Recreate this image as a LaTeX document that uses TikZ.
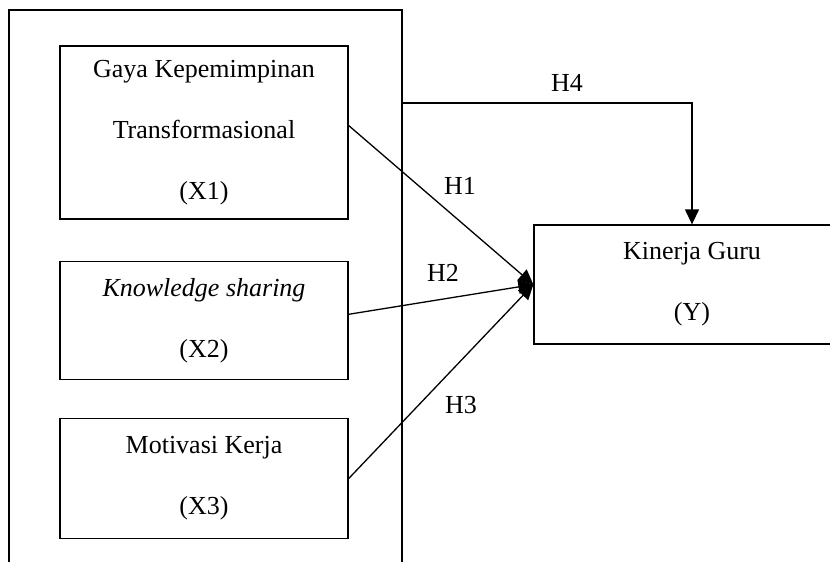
\documentclass[tikz,border=0pt]{standalone}
\usepackage{fontspec}
\setmainfont{Liberation Serif}
\usetikzlibrary{arrows.meta,positioning}

\begin{document}
\begin{tikzpicture}[->,>={Triangle[length=15pt,width=14pt]},line width=1.3pt,
                    x=1pt,y=-1pt,node distance=40pt,
                    font=\fontsize{26}{61}\selectfont]
  \tikzstyle{box}=[draw,rectangle,align=center,inner sep=0pt,minimum width=288pt]

  \useasboundingbox (0,0) rectangle (830,562);

  \node[box,minimum width=393pt,minimum height=590pt] (outer) at (205.5,305) {};
  \node[box,minimum height=173pt] (x1) at (204,132.5)   {Gaya Kepemimpinan\\Transformasional\\(X1)};
  \node[box,minimum height=118pt] (x2) [below=41pt of x1] {\textit{Knowledge sharing}\\(X2)};
  \node[box,minimum height=120pt] (x3) [below=38pt of x2] {Motivasi Kerja\\(X3)};
  \node[box,minimum width=316pt,minimum height=119pt] (y) at (692,284.5) {Kinerja Guru\\(Y)};

  \coordinate (h4line) at (0,103);
  \node (h1) at (460,186) {H1};
  \node (h2) at (443,273) {H2};
  \node (h3) at (461,405) {H3};
  \node (h4) at (567,83)  {H4};

  \path ([yshift=7pt]x1.east) edge (y.west)
        ([yshift=6pt]x2.east) edge (y.west)
        (x3.east)             edge (y.west);
  \draw (outer.east |- h4line) -| (y.north);
\end{tikzpicture}
\end{document}
